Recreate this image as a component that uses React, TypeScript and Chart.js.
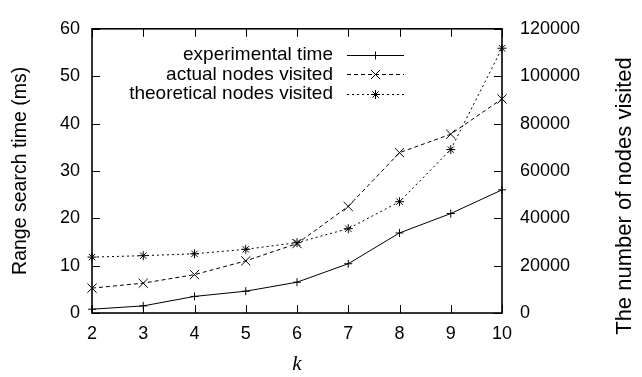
import React, { useEffect, useRef } from 'react';
import { Chart, registerables } from 'chart.js';

Chart.register(...registerables);

// ---- data ----
const kValues = [2, 3, 4, 5, 6, 7, 8, 9, 10];
const experimentalTime = [0.8, 1.5, 3.5, 4.6, 6.5, 10.4, 16.9, 21, 26];
const actualNodes = [10500, 12600, 16200, 22000, 29300, 45000, 67700, 75500, 90400];
const theoreticalNodes = [23600, 24200, 25000, 26900, 29700, 35600, 47000, 69000, 111800];

const seriesLabels = ['experimental time', 'actual nodes visited', 'theoretical nodes visited'];
const xTitle = 'k';
const leftTitle = 'Range search time (ms)';
const rightTitle = 'The number of nodes visited';

const xRange = [2, 10];
const leftRange = [0, 60];
const rightRange = [0, 120000];

const SANS = '"Liberation Sans", Arial, Helvetica, sans-serif';

function drawMarker(ctx: CanvasRenderingContext2D, style: string, x: number, y: number, r: number) {
  ctx.beginPath();
  const d = Math.cos(Math.PI / 4) * r;
  if (style === 'cross' || style === 'star') {
    ctx.moveTo(x - r, y); ctx.lineTo(x + r, y);
    ctx.moveTo(x, y - r); ctx.lineTo(x, y + r);
  }
  if (style === 'crossRot' || style === 'star') {
    ctx.moveTo(x - d, y - d); ctx.lineTo(x + d, y + d);
    ctx.moveTo(x - d, y + d); ctx.lineTo(x + d, y - d);
  }
  ctx.stroke();
}

const framePlugin = {
  id: 'gnuFrame',
  beforeDatasetsDraw(chart: any) {
    const { ctx, chartArea, scales } = chart;
    const { left, right, top, bottom } = chartArea;
    const tl = 8;
    ctx.save();
    ctx.strokeStyle = '#000';
    ctx.lineWidth = 1;
    ctx.beginPath();
    scales.x.ticks.forEach((t: any) => {
      const px = Math.round(scales.x.getPixelForValue(t.value)) + 0.5;
      ctx.moveTo(px, bottom); ctx.lineTo(px, bottom - tl);
      ctx.moveTo(px, top); ctx.lineTo(px, top + tl);
    });
    scales.y.ticks.forEach((t: any) => {
      const py = Math.round(scales.y.getPixelForValue(t.value)) + 0.5;
      ctx.moveTo(left, py); ctx.lineTo(left + tl, py);
    });
    scales.y1.ticks.forEach((t: any) => {
      const py = Math.round(scales.y1.getPixelForValue(t.value)) + 0.5;
      ctx.moveTo(right, py); ctx.lineTo(right - tl, py);
    });
    ctx.stroke();
    ctx.lineWidth = 1.6;
    ctx.strokeRect(left, top, right - left, bottom - top);
    ctx.restore();
  },
  afterDraw(chart: any) {
    const { ctx, chartArea } = chart;
    // legend (gnuplot style: text right-aligned, sample to the right)
    ctx.save();
    ctx.font = `19px ${SANS}`;
    ctx.fillStyle = '#000';
    ctx.textAlign = 'right';
    ctx.textBaseline = 'middle';
    const tx = chartArea.left + 241;
    const sx0 = chartArea.left + 255;
    const sx1 = chartArea.left + 312;
    chart.data.datasets.forEach((ds: any, i: number) => {
      const y = chartArea.top + 26 + i * 19.5;
      ctx.fillText(ds.label, tx, y);
      ctx.strokeStyle = ds.borderColor;
      ctx.lineWidth = 1;
      ctx.setLineDash(ds.borderDash || []);
      ctx.beginPath();
      ctx.moveTo(sx0, Math.round(y) + 0.5);
      ctx.lineTo(sx1, Math.round(y) + 0.5);
      ctx.stroke();
      ctx.setLineDash([]);
      drawMarker(ctx, ds.pointStyle, (sx0 + sx1) / 2, Math.round(y) + 0.5, ds.pointRadius);
    });
    // right axis title
    ctx.font = `22px ${SANS}`;
    ctx.textAlign = 'center';
    ctx.textBaseline = 'alphabetic';
    ctx.translate(chartArea.right + 129, 196);
    ctx.rotate(-Math.PI / 2);
    ctx.fillText(rightTitle, 0, 0);
    ctx.restore();
  },
};

export default function App() {
  const ref = useRef<HTMLCanvasElement | null>(null);

  useEffect(() => {
    if (!ref.current) return;
    const pts = (ys: number[]) => kValues.map((k, i) => ({ x: k, y: ys[i] }));
    const chart = new Chart(ref.current, {
      type: 'line',
      data: {
        datasets: [
          {
            label: seriesLabels[0],
            data: pts(experimentalTime),
            yAxisID: 'y',
            borderColor: '#000',
            backgroundColor: '#000',
            borderWidth: 1,
            pointStyle: 'cross',
            pointRadius: 4,
            pointBorderWidth: 1,
            pointBorderColor: '#000',
            fill: false,
            tension: 0,
            clip: false,
          },
          {
            label: seriesLabels[1],
            data: pts(actualNodes),
            yAxisID: 'y1',
            borderColor: '#000',
            backgroundColor: '#000',
            borderWidth: 1,
            borderDash: [4, 3],
            pointStyle: 'crossRot',
            pointRadius: 6.5,
            pointBorderWidth: 1,
            pointBorderColor: '#000',
            fill: false,
            tension: 0,
            clip: false,
          },
          {
            label: seriesLabels[2],
            data: pts(theoreticalNodes),
            yAxisID: 'y1',
            borderColor: '#000',
            backgroundColor: '#000',
            borderWidth: 1,
            borderDash: [2, 3],
            pointStyle: 'star',
            pointRadius: 4.5,
            pointBorderWidth: 1,
            pointBorderColor: '#000',
            fill: false,
            tension: 0,
            clip: false,
          },
        ] as any,
      },
      options: {
        animation: false,
        responsive: false,
        maintainAspectRatio: false,
        events: [],
        layout: { padding: { top: 14, left: 0, right: 0, bottom: 0 } },
        plugins: {
          legend: { display: false },
          tooltip: { enabled: false },
        },
        scales: {
          x: {
            type: 'linear',
            position: 'bottom',
            min: xRange[0],
            max: xRange[1],
            grid: { display: false, drawTicks: false },
            border: { display: false },
            ticks: {
              stepSize: 1,
              color: '#000',
              padding: 10,
              font: { family: SANS, size: 18 },
              callback: (v: any) => String(v),
            },
            title: {
              display: true,
              text: xTitle,
              color: '#000',
              padding: { top: 0, bottom: 0 },
              font: { family: '"Liberation Serif", "Times New Roman", serif', style: 'italic', size: 21 },
            },
            afterFit: (s: any) => { s.height = 64; },
          },
          y: {
            type: 'linear',
            position: 'left',
            min: leftRange[0],
            max: leftRange[1],
            grid: { display: false, drawTicks: false },
            border: { display: false },
            ticks: {
              stepSize: 10,
              color: '#000',
              padding: 12,
              font: { family: SANS, size: 18 },
              callback: (v: any) => String(v),
            },
            title: {
              display: true,
              text: leftTitle,
              color: '#000',
              padding: { top: 9, bottom: 0 },
              font: { family: SANS, size: 19.5 },
            },
            afterFit: (s: any) => { s.width = 92; },
          },
          y1: {
            type: 'linear',
            position: 'right',
            min: rightRange[0],
            max: rightRange[1],
            grid: { display: false, drawTicks: false },
            border: { display: false },
            ticks: {
              stepSize: 20000,
              color: '#000',
              padding: 18,
              font: { family: SANS, size: 18 },
              callback: (v: any) => String(v),
            },
            afterFit: (s: any) => { s.width = 140; },
          },
        },
      } as any,
      plugins: [framePlugin],
    });
    return () => chart.destroy();
  }, []);

  return (
    <div style={{ position: 'fixed', left: 0, top: 0, width: 642, height: 377, background: '#fff' }}>
      <canvas ref={ref} width={642} height={377} style={{ display: 'block' }} />
    </div>
  );
}
